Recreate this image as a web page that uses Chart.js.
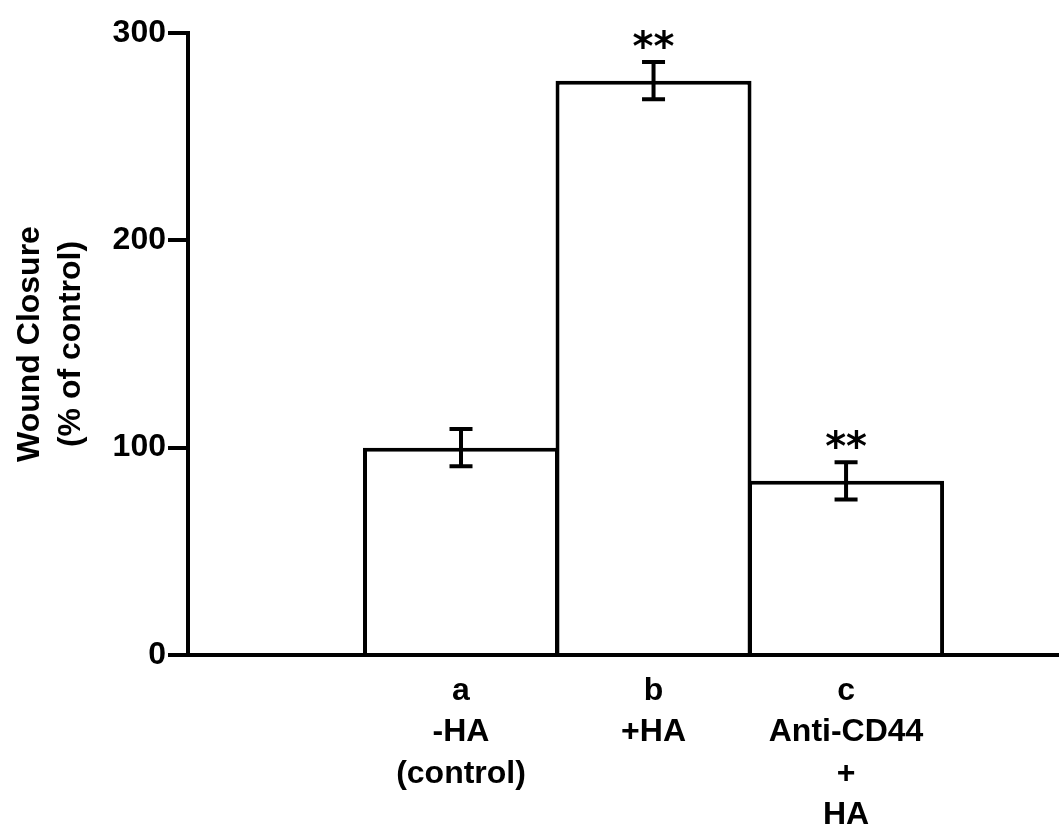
<!DOCTYPE html>
<html>
<head>
<meta charset="utf-8">
<script src="https://cdn.jsdelivr.net/npm/chart.js@4.4.0/dist/chart.umd.min.js"></script>
<style>
  html, body { margin: 0; padding: 0; background: #ffffff; }
  #wrap { width: 1059px; height: 828px; }
</style>
</head>
<body>
<div id="wrap"><canvas id="chart" width="1059" height="828"></canvas></div>
<script>
// ---- data ----
const categories = ['a', 'b', 'c'];
const categoryLines = [
  ['a', '-HA', '(control)'],
  ['b', '+HA'],
  ['c', 'Anti-CD44', '+', 'HA']
];
const categoryPositions = [1, 2, 3];
const woundClosure = [100, 277, 84];
const woundClosureErr = [9, 9, 9];
const significance = ['', '**', '**'];
const yTickValues = [0, 100, 200, 300];
const yTitleLines = ['Wound Closure', '(% of control)'];

const FONT = '"Liberation Sans", Arial, sans-serif';

const errorBarPlugin = {
  id: 'errorBars',
  afterDatasetsDraw(chart) {
    const ctx = chart.ctx;
    const xs = chart.scales.x, ys = chart.scales.y;
    ctx.save();
    ctx.strokeStyle = '#000';
    ctx.fillStyle = '#000';
    ctx.lineWidth = 4;
    ctx.lineCap = 'butt';
    woundClosure.forEach((v, i) => {
      const e = woundClosureErr[i];
      const x = xs.getPixelForValue(categoryPositions[i]);
      const yTop = ys.getPixelForValue(v + e);
      const yBot = ys.getPixelForValue(v - e);
      const cap = 11.5;
      ctx.beginPath();
      ctx.moveTo(x, yTop); ctx.lineTo(x, yBot);
      ctx.moveTo(x - cap, yTop); ctx.lineTo(x + cap, yTop);
      ctx.moveTo(x - cap, yBot); ctx.lineTo(x + cap, yBot);
      ctx.stroke();
      if (significance[i]) {
        ctx.font = 'bold 40px "DejaVu Sans", sans-serif';
        ctx.textAlign = 'center';
        ctx.textBaseline = 'alphabetic';
        const m = ctx.measureText(significance[i]);
        const center = yTop - 23;
        const y = center + (m.actualBoundingBoxAscent - m.actualBoundingBoxDescent) / 2;
        ctx.fillText(significance[i], x, y);
      }
    });
    ctx.restore();
  }
};

new Chart(document.getElementById('chart'), {
  type: 'bar',
  data: {
    datasets: [{
      data: categoryPositions.map((p, i) => ({ x: p, y: woundClosure[i] })),
      backgroundColor: '#ffffff',
      borderColor: '#000000',
      borderWidth: 4,
      barPercentage: 1.018,
      categoryPercentage: 1.0
    }]
  },
  options: {
    responsive: false,
    animation: false,
    devicePixelRatio: 1,
    layout: { padding: { left: 10, right: 0, top: 33, bottom: 0 } },
    plugins: { legend: { display: false }, tooltip: { enabled: false } },
    scales: {
      x: {
        type: 'linear',
        bounds: 'data',
        min: -0.418,
        max: 4.106,
        offset: false,
        z: 1,
        grid: { display: true, drawOnChartArea: false, drawTicks: false, color: 'rgba(0,0,0,0)' },
        border: { display: true, color: '#000', width: 4 },
        afterBuildTicks: (scale) => { scale.ticks = categoryPositions.map(v => ({ value: v })); },
        afterFit: (scale) => { scale.height = 173; },
        ticks: {
          autoSkip: false,
          maxRotation: 0,
          minRotation: 0,
          padding: 15,
          color: '#000',
          font: { family: FONT, size: 32, weight: 'bold', lineHeight: 41.5 / 32 },
          callback: (value) => {
            const i = categoryPositions.indexOf(value);
            return i >= 0 ? categoryLines[i] : '';
          }
        }
      },
      y: {
        min: 0,
        max: 300,
        z: 1,
        afterBuildTicks: (scale) => { scale.ticks = yTickValues.map(v => ({ value: v })); },
        afterFit: (scale) => { scale.width = 178; },
        grid: { display: true, drawOnChartArea: false, drawTicks: true, tickLength: 20, tickWidth: 4, tickColor: '#000', lineWidth: 4, color: '#000' },
        border: { display: true, color: '#000', width: 4 },
        ticks: {
          padding: 2,
          color: '#000',
          font: { family: FONT, size: 32, weight: 'bold', lineHeight: 1.2 }
        },
        title: {
          display: true,
          text: yTitleLines,
          color: '#000',
          padding: { top: 0, bottom: 0 },
          font: { family: FONT, size: 32, weight: 'bold', lineHeight: 41 / 32 }
        }
      }
    }
  },
  plugins: [errorBarPlugin]
});
</script>
</body>
</html>
